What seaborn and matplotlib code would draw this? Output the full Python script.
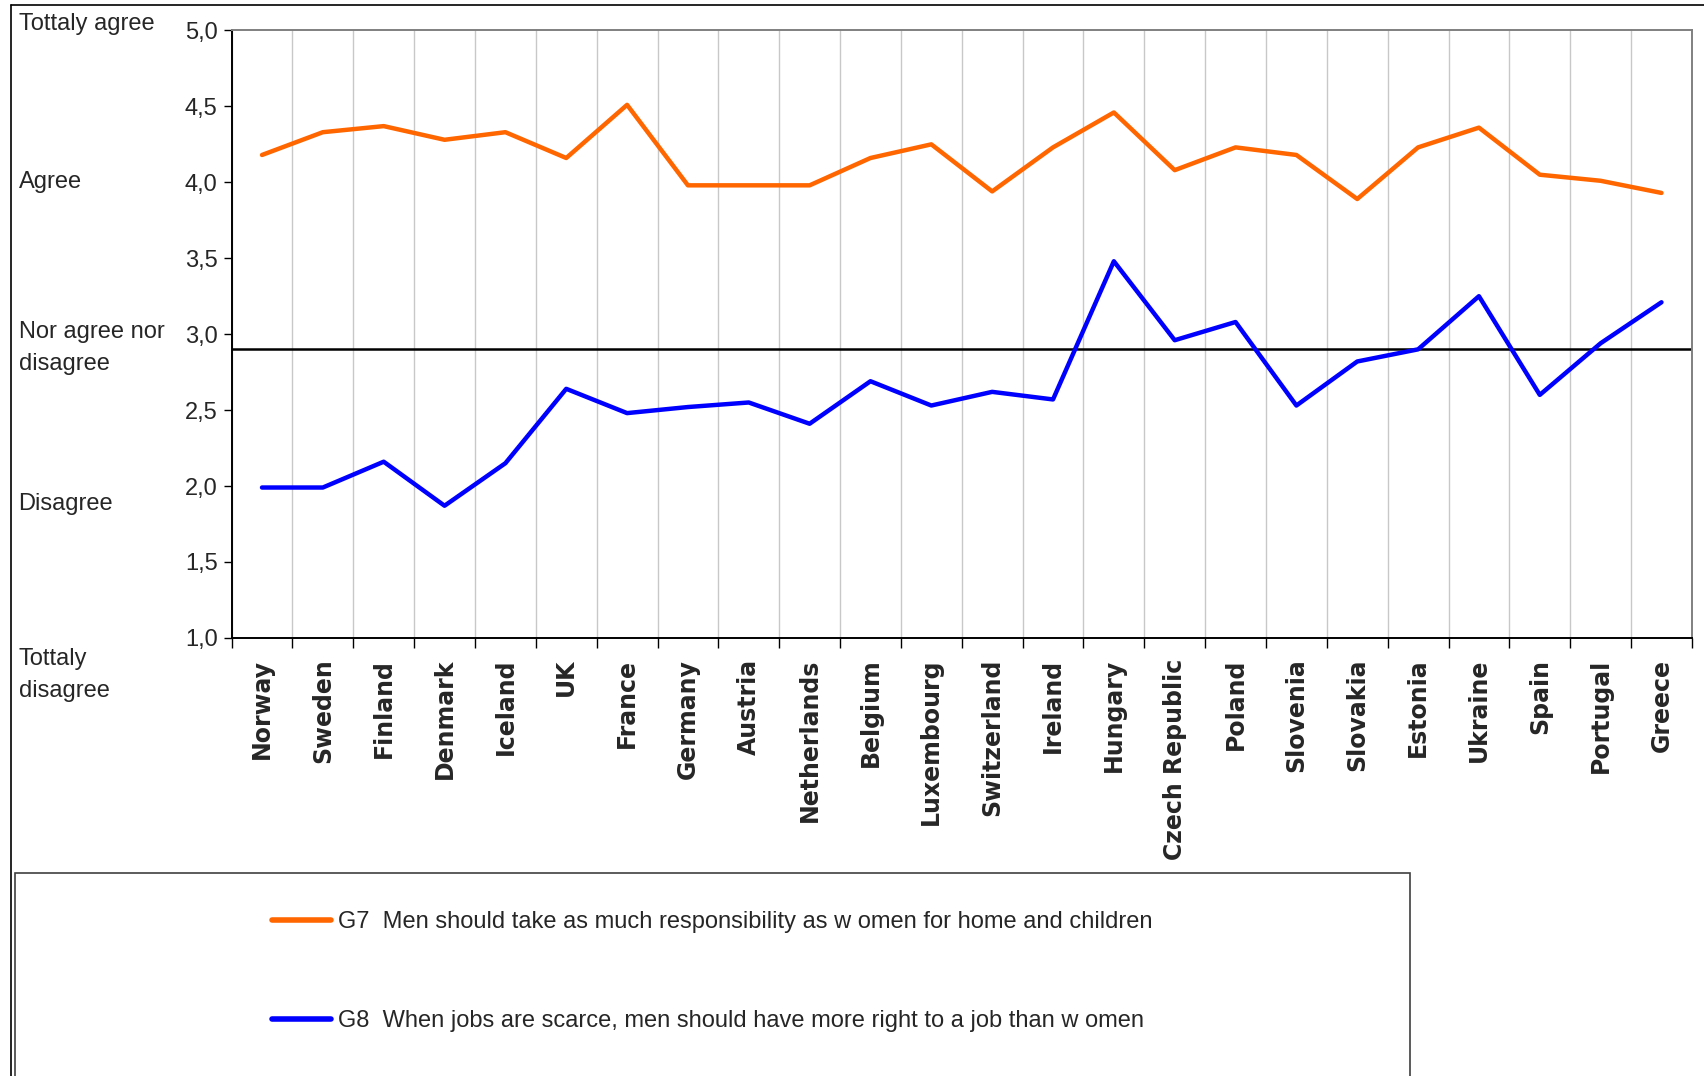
import matplotlib
matplotlib.use("Agg")
import matplotlib.pyplot as plt
import numpy as np
import pandas
import seaborn
from matplotlib.patches import Rectangle
from matplotlib.lines import Line2D

countries = ["Norway", "Sweden", "Finland", "Denmark", "Iceland", "UK", "France",
             "Germany", "Austria", "Netherlands", "Belgium", "Luxembourg",
             "Switzerland", "Ireland", "Hungary", "Czech Republic", "Poland",
             "Slovenia", "Slovakia", "Estonia", "Ukraine", "Spain", "Portugal",
             "Greece"]

g7 = [4.18, 4.33, 4.37, 4.28, 4.33, 4.16, 4.51, 3.98, 3.98, 3.98, 4.16, 4.25,
      3.94, 4.23, 4.46, 4.08, 4.23, 4.18, 3.89, 4.23, 4.36, 4.05, 4.01, 3.93]
g8 = [1.99, 1.99, 2.16, 1.87, 2.15, 2.64, 2.48, 2.52, 2.55, 2.41, 2.69, 2.53,
      2.62, 2.57, 3.48, 2.96, 3.08, 2.53, 2.82, 2.90, 3.25, 2.60, 2.94, 3.21]

g7_label = "G7  Men should take as much responsibility as w omen for home and children"
g8_label = "G8  When jobs are scarce, men should have more right to a job than w omen"

yticks = [1.0, 1.5, 2.0, 2.5, 3.0, 3.5, 4.0, 4.5, 5.0]
scale_labels = [("Tottaly agree", 5.04), ("Agree", 4.0), ("Nor agree nor\ndisagree", 2.91),
                ("Disagree", 1.88), ("Tottaly\ndisagree", 0.757)]
midline = 2.9

ORANGE = "#FF6600"
BLUE = "#0000FF"


def main():
    seaborn.set_style("white")
    plt.rcParams["font.family"] = ["Liberation Sans", "DejaVu Sans"]

    fig = plt.figure(figsize=(17.04, 10.76), dpi=100)
    ax = fig.add_axes([0.1359, 0.4072, 0.857, 0.5645])

    rows = []
    for i, c in enumerate(countries):
        rows.append({"pos": i, "country": c, "value": g7[i], "series": g7_label})
    for i, c in enumerate(countries):
        rows.append({"pos": i, "country": c, "value": g8[i], "series": g8_label})
    df = pandas.DataFrame(rows)

    seaborn.lineplot(ax=ax, data=df, x="pos", y="value", hue="series",
                     palette=[ORANGE, BLUE], linewidth=3.2, legend=False)

    ax.axhline(midline, color="black", linewidth=1.8, zorder=1)

    n = len(countries)
    ax.set_xlim(-0.5, n - 0.5)
    ax.set_ylim(1.0, 5.0)
    ax.set_xlabel("")
    ax.set_ylabel("")

    # boundaries carry the ticks + gridlines, labels sit in the middle
    ax.set_xticks(np.arange(n + 1) - 0.5)
    ax.set_xticklabels([])
    ax.set_xticks(np.arange(n), minor=True)
    ax.set_xticklabels(countries, minor=True, rotation=90, fontweight="bold",
                       fontsize=17, family="DejaVu Sans")
    ax.tick_params(axis="x", which="major", length=7, width=1, color="black", direction="out", bottom=True)
    ax.tick_params(axis="x", which="minor", length=0, pad=15)
    ax.xaxis.grid(True, which="major", color="#c8c8c8", linewidth=1)
    ax.yaxis.grid(False)

    ax.set_yticks(yticks)
    ax.set_yticklabels(["{:.1f}".format(v).replace(".", ",") for v in yticks], fontsize=17)
    ax.tick_params(axis="y", length=6, width=1, color="black", direction="out", left=True, pad=4)

    for side in ["left", "bottom"]:
        ax.spines[side].set_color("black")
        ax.spines[side].set_linewidth(1.4)
    for side in ["top", "right"]:
        ax.spines[side].set_color("#808080")
        ax.spines[side].set_linewidth(1.4)

    # verbal scale on the far left
    for txt, yv in scale_labels:
        y_fig = fig.transFigure.inverted().transform(ax.transData.transform((0, yv)))[1]
        fig.text(0.0109, y_fig, txt, fontsize=17, va="center", ha="left", linespacing=1.6)

    # outer frame
    fig.add_artist(Line2D([0.0065, 1.0], [0.995, 0.995], transform=fig.transFigure, color="black", linewidth=1.2))
    fig.add_artist(Line2D([0.0065, 0.0065], [0.0, 0.995], transform=fig.transFigure, color="black", linewidth=1.2))

    # legend box
    fig.add_artist(Rectangle((0.0089, -0.01), 0.8183, 0.199, transform=fig.transFigure,
                             facecolor="white", edgecolor="#404040", linewidth=1.2, zorder=5))
    handles = [Line2D([], [], color=ORANGE, linewidth=4), Line2D([], [], color=BLUE, linewidth=4)]
    leg = fig.legend(handles, [g7_label, g8_label], loc="upper left", bbox_to_anchor=(0.1594, 0.153),
                     frameon=False, fontsize=17, handlelength=2.5, handletextpad=0.3,
                     labelspacing=3.25, borderpad=0, borderaxespad=0)
    leg.set_zorder(6)

    plt.savefig("out.png", dpi=100)


if __name__ == "__main__":
    main()
